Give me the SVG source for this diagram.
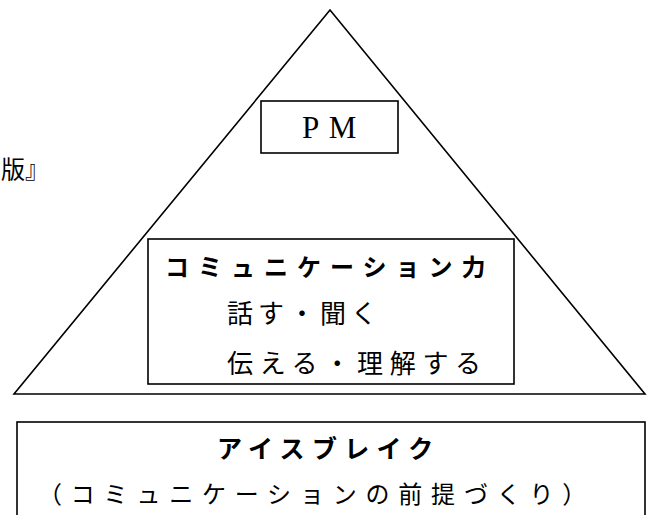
<svg xmlns="http://www.w3.org/2000/svg" width="653" height="515" viewBox="0 0 653 515">
<style>
.ln{fill:none;stroke:#000;stroke-width:1.6}
.box{fill:#fff;stroke:#000;stroke-width:1.6}
.g{font-family:"Noto Sans CJK JP","Noto Sans CJK SC",sans-serif;fill:#000}
.b{font-weight:bold}
.s{font-family:"Liberation Serif",serif;fill:#000}
</style>
<rect width="653" height="515" fill="#fff"/>
<g id="caption">
<text class="g" x="1" y="178" font-size="24">版』</text>
</g>
<g id="pyramid">
<polygon class="ln" points="330,10 14,394 645,394"/>
</g>
<g id="pm">
<rect class="box" x="261" y="101" width="137" height="52"/>
<text class="s" x="302" y="138" font-size="31" letter-spacing="9.5">PM</text>
</g>
<g id="communication">
<rect class="box" x="148" y="239" width="366" height="145"/>
<text class="g b" x="165" y="276" font-size="24" letter-spacing="9">コミュニケーション力</text>
<text class="g" x="227" y="323" font-size="26" letter-spacing="5">話す・聞く</text>
<text class="g" x="227" y="373" font-size="26" letter-spacing="6.7">伝える・理解する</text>
</g>
<g id="icebreak">
<rect class="box" x="17" y="422" width="628" height="100"/>
<text class="g b" x="217" y="458" font-size="25" letter-spacing="7.3">アイスブレイク</text>
<text class="g" x="38" y="503" font-size="24" letter-spacing="8.8">（コミュニケーションの前提づくり）</text>
</g>
</svg>
